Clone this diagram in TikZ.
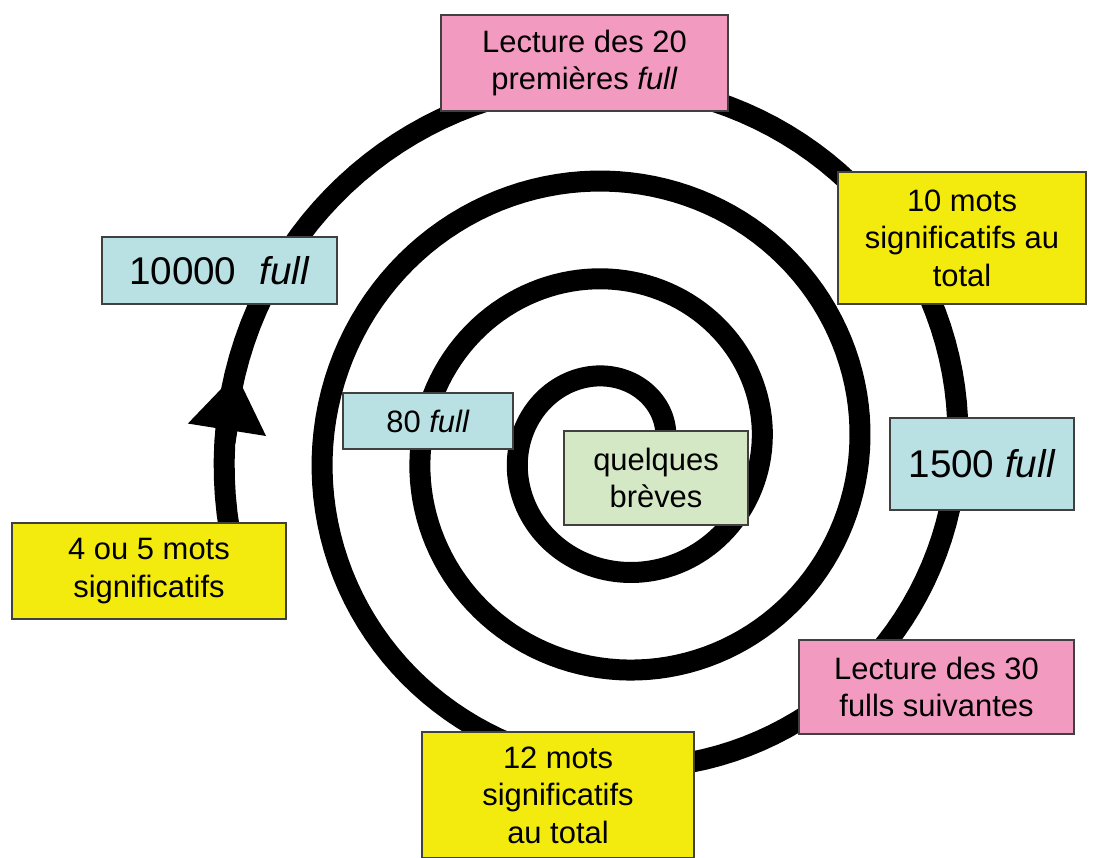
\documentclass[tikz,border=0pt]{standalone}
\usepackage{fontspec}
\setmainfont{Liberation Sans}
\usetikzlibrary{arrows.meta}

\definecolor{cardpink}{RGB}{243,154,193}
\definecolor{cardyellow}{RGB}{244,235,14}
\definecolor{cardblue}{RGB}{185,224,227}
\definecolor{cardgreen}{RGB}{213,232,197}

\begin{document}
\begin{tikzpicture}[x=0.02cm, y=-0.02cm,
        card/.style={draw=black!75, line width=0.8pt, inner sep=0pt, align=center,
            font=\fontsize{17.6}{21.3}\selectfont},
        bigcard/.style={card, font=\fontsize{22}{26}\selectfont},
        spiral/.style={line width=0.42cm, line cap=round, line join=round}]
        % Frame
        \useasboundingbox (0,0) rectangle (1098,858);

        % Spiral
        \draw[spiral] plot[domain=0:7*pi+0.25, samples=500, variable=\t]
            ({615.5+(48+15.6*\t)*cos(\t r)}, {450-(48+15.6*\t)*sin(\t r)});

        % Arrow head
        \coordinate (arrowbase) at (225,442);
        \coordinate (arrowtip) at (236,373);
        \draw[spiral, line cap=butt, -{Triangle[length=1.15cm, width=1.5cm]}] (arrowbase) -- (arrowtip);

        % Cards
        \node[card, fill=cardpink, minimum width=5.74cm, minimum height=1.92cm] (lect20) at (584.5,63) {Lecture des 20\\premières \textit{full}};
        \node[card, fill=cardyellow, minimum width=4.96cm, minimum height=2.64cm] (mots10) at (962,238) {10 mots\\significatifs au\\total};
        \node[bigcard, fill=cardblue, minimum width=3.68cm, minimum height=1.84cm] (full1500) at (982,464) {1500 \textit{full}};
        \node[card, fill=cardpink, minimum width=5.5cm, minimum height=1.88cm] (lect30) at (936.5,687) {Lecture des 30\\fulls suivantes};
        \node[card, fill=cardyellow, minimum width=5.44cm, minimum height=2.52cm] (mots12) at (558,795) {12 mots\\significatifs\\au total};
        \node[bigcard, fill=cardblue, minimum width=4.7cm, minimum height=1.34cm] (full10000) at (219.5,270.5) {10000\hspace{0.6em}\textit{full}};
        \node[card, fill=cardyellow, minimum width=5.48cm, minimum height=1.92cm] (mots45) at (149,571) {4 ou 5 mots\\significatifs};
        \node[card, fill=cardblue, minimum width=3.4cm, minimum height=1.12cm] (full80) at (428,421) {80 \textit{full}};
        \node[card, fill=cardgreen, minimum width=3.68cm, minimum height=1.88cm] (breves) at (656,478) {quelques\\brèves};

\end{tikzpicture}
\end{document}
